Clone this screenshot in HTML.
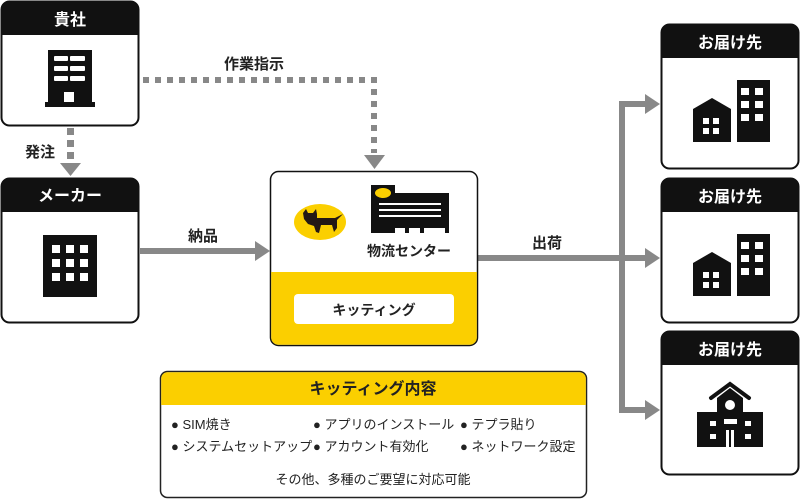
<!DOCTYPE html>
<html><head><meta charset="utf-8"><style>
html,body{margin:0;padding:0;background:#fff;}
svg{display:block;}
text{font-family:"Liberation Sans","Noto Sans CJK JP",sans-serif;font-weight:bold;}
.n{font-weight:normal;}
</style></head><body>
<svg width="800" height="500" viewBox="0 0 800 500" xmlns="http://www.w3.org/2000/svg">
<g fill="#888">
  <rect x="67" y="128" width="7" height="7"/><rect x="67" y="140" width="7" height="7"/><rect x="67" y="152" width="7" height="7"/>
  <polygon points="60,163 81,163 70.5,176"/>
  <rect x="140" y="248" width="116" height="6"/>
  <polygon points="255,241 270,251 255,261"/>
  <rect x="478" y="255" width="168" height="6"/>
  <rect x="619" y="101" width="6" height="312"/>
  <rect x="619" y="101" width="27" height="6"/>
  <rect x="619" y="407" width="27" height="6"/>
  <polygon points="645,94 660,104 645,114"/>
  <polygon points="645,248 660,258 645,268"/>
  <polygon points="645,400 660,410 645,420"/>
  <polygon points="364,155 385,155 374.5,169"/>
</g>
<path d="M143 80 H374 V153" stroke="#888" stroke-width="6" fill="none" stroke-dasharray="6 6"/>
<text x="224" y="69" font-size="15" fill="#222">作業指示</text>
<text x="25" y="157" font-size="15" fill="#222">発注</text>
<text x="188" y="241" font-size="15" fill="#222">納品</text>
<text x="532" y="248" font-size="15" fill="#222">出荷</text>

<rect x="1.5" y="1.5" width="137" height="124" rx="8" fill="#fff" stroke="#111" stroke-width="2"/>
<path d="M1.5 35 V9.5 a8 8 0 0 1 8 -8 H130.5 a8 8 0 0 1 8 8 V35 Z" fill="#111"/>
<text x="70" y="25" font-size="16" fill="#fff" text-anchor="middle">貴社</text>
<rect x="48" y="50" width="44" height="52" fill="#111"/>
<rect x="45" y="102" width="50" height="5" fill="#111"/>
<g fill="#fff"><rect x="54" y="56" width="14" height="5" rx="1"/><rect x="70" y="56" width="15" height="5" rx="1"/>
<rect x="54" y="66" width="14" height="5" rx="1"/><rect x="70" y="66" width="15" height="5" rx="1"/>
<rect x="54" y="76" width="14" height="5" rx="1"/><rect x="70" y="76" width="15" height="5" rx="1"/>
<rect x="64" y="92" width="10" height="10"/></g>

<rect x="1.5" y="178.5" width="137" height="144" rx="8" fill="#fff" stroke="#111" stroke-width="2"/>
<path d="M1.5 212 V186.5 a8 8 0 0 1 8 -8 H130.5 a8 8 0 0 1 8 8 V212 Z" fill="#111"/>
<text x="70" y="201" font-size="16" fill="#fff" text-anchor="middle">メーカー</text>
<rect x="43" y="235" width="54" height="62" fill="#111"/>
<g fill="#fff">
<rect x="52" y="245" width="8" height="8"/><rect x="66" y="245" width="8" height="8"/><rect x="80" y="245" width="8" height="8"/>
<rect x="52" y="259" width="8" height="8"/><rect x="66" y="259" width="8" height="8"/><rect x="80" y="259" width="8" height="8"/>
<rect x="52" y="273" width="8" height="8"/><rect x="66" y="273" width="8" height="8"/><rect x="80" y="273" width="8" height="8"/>
</g>

<rect x="270.5" y="171.5" width="207" height="174" rx="8" fill="#fff" stroke="#111" stroke-width="1.5"/>
<path d="M271.2 272 H476.8 V337.5 a7.3 7.3 0 0 1 -7.3 7.3 H278.5 a7.3 7.3 0 0 1 -7.3 -7.3 Z" fill="#fbcf00"/>
<rect x="294" y="294" width="160" height="30" rx="4" fill="#fff"/>
<text x="374" y="315" font-size="14" fill="#222" text-anchor="middle">キッティング</text>
<ellipse cx="320" cy="222" rx="26" ry="18" fill="#fbcf00"/>
<path d="M303 213 l3 -4 2 4 h5 l3 -4 1 5 v4 h18 l8 -4 -6 6 v8 l-3 4 -2 -7 h-11 l-2 8 -3 -1 -2 -6 -6 -2 -4 -5 z" fill="#231815"/>
<rect x="371" y="185" width="24" height="48" fill="#111"/>
<rect x="371" y="193" width="78" height="33" fill="#111"/>
<rect x="371" y="226" width="78" height="2" fill="#111"/>
<g fill="#111"><rect x="389" y="226" width="4" height="7"/><rect x="405" y="226" width="4" height="7"/><rect x="420" y="226" width="4" height="7"/><rect x="445" y="226" width="4" height="7"/></g>
<ellipse cx="383" cy="193" rx="8" ry="5" fill="#fbcf00"/>
<g fill="#fff"><rect x="379" y="203" width="62" height="2"/><rect x="379" y="209" width="62" height="2"/><rect x="379" y="215" width="62" height="2"/></g>
<text x="367" y="256" font-size="14" fill="#222">物流センター</text>

<g id="b1">
<rect x="661.5" y="24.5" width="137" height="144" rx="8" fill="#fff" stroke="#111" stroke-width="2"/>
<path d="M661.5 58 V32.5 a8 8 0 0 1 8 -8 H790.5 a8 8 0 0 1 8 8 V58 Z" fill="#111"/>
<text x="730" y="48" font-size="16" fill="#fff" text-anchor="middle">お届け先</text>
<path d="M693 109 l19 -11 19 11 v33 h-38 z" fill="#111"/><rect x="737" y="80" width="33" height="62" fill="#111"/>
<g fill="#fff"><rect x="703" y="118" width="6" height="6"/><rect x="713" y="118" width="6" height="6"/><rect x="703" y="128" width="6" height="6"/><rect x="713" y="128" width="6" height="6"/>
<rect x="741" y="88" width="8" height="7"/><rect x="755" y="88" width="8" height="7"/><rect x="741" y="101" width="8" height="7"/><rect x="755" y="101" width="8" height="7"/><rect x="741" y="114" width="8" height="7"/><rect x="755" y="114" width="8" height="7"/></g>
</g>
<use href="#b1" transform="translate(0,154)"/>
<g>
<rect x="661.5" y="331.5" width="137" height="143" rx="8" fill="#fff" stroke="#111" stroke-width="2"/>
<path d="M661.5 365 V339.5 a8 8 0 0 1 8 -8 H790.5 a8 8 0 0 1 8 8 V365 Z" fill="#111"/>
<text x="730" y="355" font-size="16" fill="#fff" text-anchor="middle">お届け先</text>
<path d="M711 398 l19 -14 19 14" stroke="#111" stroke-width="4" fill="none" stroke-linecap="round"/>
<path d="M717 398 l13 -10 13 10 v14 h20 v35 h-66 v-35 h20 z" fill="#111"/>
<g fill="#fff"><circle cx="730" cy="405" r="5"/><rect x="724" y="419" width="13" height="5"/><rect x="710" y="421" width="6" height="5"/><rect x="745" y="421" width="6" height="5"/><rect x="710" y="434" width="6" height="5"/><rect x="745" y="434" width="6" height="5"/><rect x="726" y="430" width="3" height="17"/><rect x="731" y="430" width="3" height="17"/></g>
</g>

<rect x="160.5" y="371.5" width="426" height="126" rx="7" fill="#fff" stroke="#222" stroke-width="1.5"/>
<path d="M161.2 405 V378.5 a6.3 6.3 0 0 1 6.3 -6.3 H579.5 a6.3 6.3 0 0 1 6.3 6.3 V405 Z" fill="#fbcf00"/>
<text x="373" y="394" font-size="16" fill="#222" text-anchor="middle">キッティング内容</text>
<g font-size="13" fill="#222">
<text class="n" x="171" y="429">● SIM焼き</text>
<text class="n" x="313" y="429">● アプリのインストール</text>
<text class="n" x="460" y="429">● テプラ貼り</text>
<text class="n" x="171" y="451">● システムセットアップ</text>
<text class="n" x="313" y="451">● アカウント有効化</text>
<text class="n" x="460" y="451">● ネットワーク設定</text>
<text class="n" x="373" y="484" text-anchor="middle">その他、多種のご要望に対応可能</text>
</g>
</svg>
</body></html>
